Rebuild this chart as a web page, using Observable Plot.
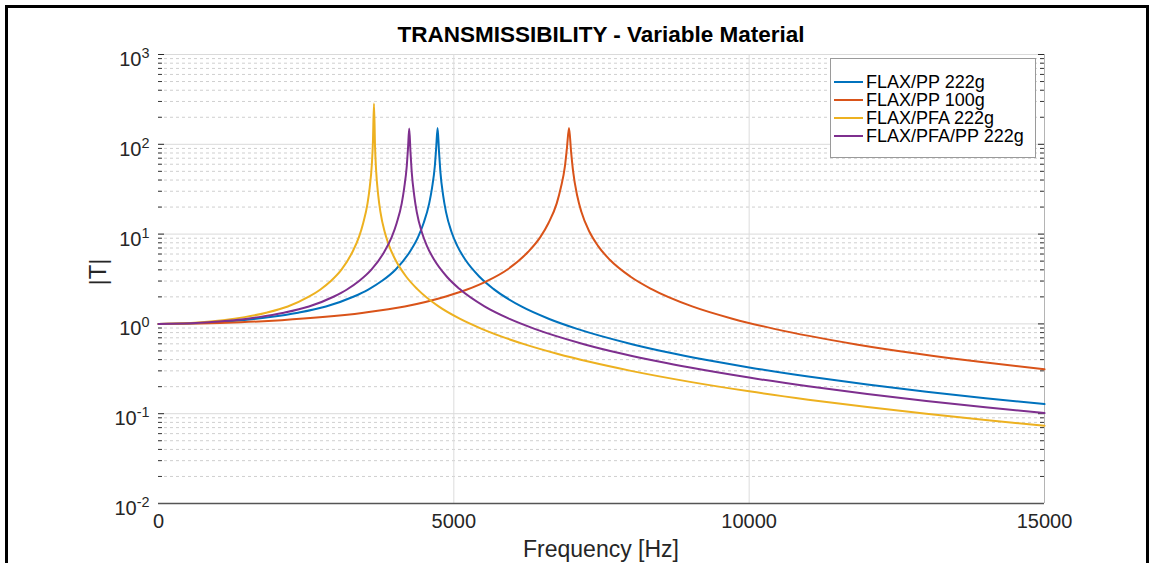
<!DOCTYPE html>
<html>
<head>
<meta charset="utf-8">
<script src="https://cdn.jsdelivr.net/npm/d3@7"></script>
<script src="https://cdn.jsdelivr.net/npm/@observablehq/plot@0.6"></script>
<style>
  html, body { margin: 0; padding: 0; background: #fff; }
  #wrap { position: relative; width: 1150px; height: 563px; overflow: hidden;
          font-family: "Liberation Sans", Arial, Helvetica, sans-serif; color: #000; }
  #chart { position: absolute; left: 0; top: 0; }
  #frame { position: absolute; left: 5px; top: 5px; width: 1138px; height: 620px;
           border: 3px solid #000; z-index: 5; pointer-events: none; }
  #title { position: absolute; left: 158px; width: 886px; top: 21px; text-align: center;
           font-weight: bold; font-size: 22.5px; line-height: 28px; color: #000; z-index: 3; }
  #xlabel { position: absolute; left: 158px; width: 886px; top: 535px; text-align: center;
            font-size: 23px; line-height: 28px; color: #262626; z-index: 3; }
  #ylabel { position: absolute; left: 98px; top: 272px; transform: translate(-50%, -50%) rotate(-90deg);
            font-size: 24px; line-height: 28px; color: #262626; white-space: nowrap; z-index: 3; }
  #legend { position: absolute; left: 830px; top: 58px; width: 204px; height: 98px;
            border: 1px solid #9a9a9a; background: #fff; z-index: 4; }
  .lrow { position: absolute; left: 0; height: 18px; }
  .lline { position: absolute; left: 3px; top: 8px; width: 29px; height: 2px; }
  .ltext { position: absolute; left: 35px; top: 0px; font-size: 18px; line-height: 18px; white-space: nowrap; color: #000; }
</style>
</head>
<body>
<div id="wrap">
  <div id="chart"></div>
  <div id="title"></div>
  <div id="xlabel"></div>
  <div id="ylabel"></div>
  <div id="legend"></div>
  <div id="frame"></div>
</div>
<script>
// ---------- chart text ----------
const chartTitle = "TRANSMISSIBILITY - Variable Material";
const xLabel = "Frequency [Hz]";
const yLabel = "|T|";

// ---------- series ----------
const seriesNames = ["FLAX/PP 222g", "FLAX/PP 100g", "FLAX/PFA 222g", "FLAX/PFA/PP 222g"];
const seriesColors = ["#0072BD", "#D95319", "#EDB120", "#7E2F8E"];

// FLAX/PP 222g  (|T|, frequency in Hz)
const freqPP222 = [0, 473, 945, 1418, 1890, 2363, 2835, 3308, 3544, 3780, 4016, 4253, 4394, 4489, 4583, 4631, 4678, 4701, 4725,
                   4749, 4772, 4820, 4867, 4961, 5056, 5198, 5434, 5670, 6143, 6615, 7088, 8033, 8741, 9450,
                   10000, 11000, 12000, 13000, 14000, 15000];
const tPP222    = [1.0, 1.010, 1.042, 1.099, 1.190, 1.333, 1.563, 2.02, 2.40, 3.00, 4.04, 6.32, 9.25, 13.3, 22.0, 32.8, 57, 91, 152,
                   83, 49.6, 26.7, 17.7, 10.54, 7.45, 5.14, 3.35, 2.455, 1.565, 1.135, 0.88, 0.591, 0.465, 0.378,
                   0.3276, 0.2595, 0.2114, 0.176, 0.149, 0.1281];

// FLAX/PP 100g
const freqPP100 = [0, 695, 1390, 2085, 2780, 3475, 4170, 4865, 5213, 5560, 5908, 6255, 6464, 6603, 6742, 6811, 6881, 6915, 6950,
                   6985, 7020, 7089, 7159, 7298, 7437, 7645, 7993, 8340, 9035, 9730, 10425, 11815, 12858, 13900, 15000];
const tPP100    = [1.0, 1.010, 1.042, 1.099, 1.190, 1.333, 1.563, 2.02, 2.40, 3.00, 4.04, 6.32, 9.25, 13.3, 22.0, 32.8, 57, 91, 152,
                   83, 49.6, 26.7, 17.7, 10.54, 7.45, 5.14, 3.35, 2.455, 1.565, 1.135, 0.88, 0.591, 0.465, 0.378, 0.312];

// FLAX/PFA 222g
const freqPFA222 = [0, 365, 730, 1094, 1459, 1824, 2189, 2554, 2736, 2918, 3101, 3283, 3393, 3466, 3539, 3575, 3612, 3630, 3648,
                    3666, 3684, 3721, 3757, 3830, 3903, 4013, 4195, 4378, 4742, 5107, 5472, 6202, 6749, 7296,
                    8000, 9000, 10000, 11000, 12000, 13000, 14000, 15000];
const tPFA222    = [1.0, 1.010, 1.042, 1.099, 1.190, 1.333, 1.563, 2.02, 2.40, 3.00, 4.04, 6.32, 9.25, 13.3, 22.0, 32.8, 60, 104, 284,
                    94, 51.5, 26.7, 17.7, 10.54, 7.45, 5.14, 3.35, 2.455, 1.565, 1.135, 0.88, 0.591, 0.465, 0.378,
                    0.300, 0.2262, 0.1775, 0.1434, 0.1185, 0.0997, 0.0851, 0.0735];

// FLAX/PFA/PP 222g
const freqPFAPP222 = [0, 425, 849, 1274, 1698, 2123, 2547, 2972, 3184, 3396, 3608, 3821, 3948, 4033, 4118, 4160, 4203, 4224, 4245,
                      4266, 4287, 4330, 4372, 4457, 4542, 4670, 4882, 5094, 5519, 5943, 6368, 7217, 7853, 8490,
                      9000, 10000, 11000, 12000, 13000, 14000, 15000];
const tPFAPP222    = [1.0, 1.010, 1.042, 1.099, 1.190, 1.333, 1.563, 2.02, 2.40, 3.00, 4.04, 6.32, 9.25, 13.3, 22.0, 32.8, 57, 90, 150,
                      82, 49.2, 26.7, 17.7, 10.54, 7.45, 5.14, 3.35, 2.455, 1.565, 1.135, 0.88, 0.591, 0.465, 0.378,
                      0.3262, 0.2523, 0.2018, 0.1656, 0.1386, 0.1178, 0.1015];

// ---------- axes ----------
const xTicks = [0, 5000, 10000, 15000];
const xGridTicks = [5000, 10000];
const xDomain = [0, 15000];
const yDomain = [1e-2, 1e3];
const yMajorTicks = [1e-2, 1e-1, 1e0, 1e1, 1e2, 1e3];
const yMinorTicks = [
  2e-2, 3e-2, 4e-2, 5e-2, 6e-2, 7e-2, 8e-2, 9e-2,
  2e-1, 3e-1, 4e-1, 5e-1, 6e-1, 7e-1, 8e-1, 9e-1,
  2, 3, 4, 5, 6, 7, 8, 9,
  20, 30, 40, 50, 60, 70, 80, 90,
  200, 300, 400, 500, 600, 700, 800, 900
];

// ---------- build table ----------
const seriesFreqs = [freqPP222, freqPP100, freqPFA222, freqPFAPP222];
const seriesVals = [tPP222, tPP100, tPFA222, tPFAPP222];
const rows = [];
seriesNames.forEach((name, s) => {
  seriesFreqs[s].forEach((f, i) => rows.push({series: name, f: f, t: seriesVals[s][i]}));
});

const W = 1150, H = 563;
const mL = 158, mR = 106, mT = 54, mB = 60;
const plotW = W - mL - mR;

const chart = Plot.plot({
  width: W,
  height: H,
  marginLeft: mL,
  marginRight: mR,
  marginTop: mT,
  marginBottom: mB,
  style: {fontFamily: "'Liberation Sans', Arial, Helvetica, sans-serif", background: "transparent", color: "#262626"},
  x: {domain: xDomain},
  y: {type: "log", domain: yDomain},
  color: {domain: seriesNames, range: seriesColors},
  marks: [
    Plot.ruleY(yMinorTicks, {stroke: "#cfcfcf", strokeDasharray: "3,3", strokeWidth: 1}),
    Plot.ruleY(yMajorTicks, {stroke: "#dadada", strokeWidth: 1}),
    Plot.ruleX(xGridTicks, {stroke: "#dcdcdc", strokeWidth: 1}),
    Plot.ruleX([xDomain[1]], {stroke: "#b4b4b4", strokeWidth: 1}),
    Plot.ruleY(yMinorTicks, {stroke: "#3a3a3a", strokeWidth: 1, insetRight: plotW - 4}),
    Plot.ruleY(yMajorTicks, {stroke: "#2a2a2a", strokeWidth: 1, insetRight: plotW - 6}),
    Plot.ruleY(yMinorTicks, {stroke: "#3a3a3a", strokeWidth: 1, insetLeft: plotW - 4}),
    Plot.ruleY(yMajorTicks, {stroke: "#2a2a2a", strokeWidth: 1, insetLeft: plotW - 6}),
    Plot.line(rows, {x: "f", y: "t", z: "series", stroke: "series", strokeWidth: 2, curve: "monotone-x", strokeLinejoin: "round"}),
    Plot.ruleY([yDomain[0]], {stroke: "#555555", strokeWidth: 1.3}),
    Plot.axisY({ticks: yMajorTicks, tickSize: 0, tickPadding: 9, dy: 5, fontSize: 20, label: null,
                tickFormat: d => "10^" + Math.round(Math.log10(d))}),
    Plot.axisX({ticks: xTicks, tickSize: 0, tickPadding: 10, fontSize: 20, label: null,
                tickFormat: d => String(d)})
  ]
});
document.getElementById("chart").appendChild(chart);

// superscript exponents on the log axis labels
const svgNS = "http://www.w3.org/2000/svg";
chart.querySelectorAll('g[aria-label="y-axis tick label"] text').forEach(t => {
  const parts = t.textContent.split("^");
  if (parts.length !== 2) return;
  t.textContent = parts[0];
  const ts = document.createElementNS(svgNS, "tspan");
  ts.setAttribute("dy", "-0.55em");
  ts.setAttribute("font-size", "0.72em");
  ts.textContent = parts[1];
  t.appendChild(ts);
});

// titles
document.getElementById("title").textContent = chartTitle;
document.getElementById("xlabel").textContent = xLabel;
document.getElementById("ylabel").textContent = yLabel;

// legend
const legend = document.getElementById("legend");
const rowTops = [14, 32, 50, 68];
seriesNames.forEach((name, i) => {
  const row = document.createElement("div");
  row.className = "lrow";
  row.style.top = rowTops[i] + "px";
  const ln = document.createElement("div");
  ln.className = "lline";
  ln.style.background = seriesColors[i];
  const tx = document.createElement("div");
  tx.className = "ltext";
  tx.textContent = name;
  row.appendChild(ln);
  row.appendChild(tx);
  legend.appendChild(row);
});
</script>
</body>
</html>
